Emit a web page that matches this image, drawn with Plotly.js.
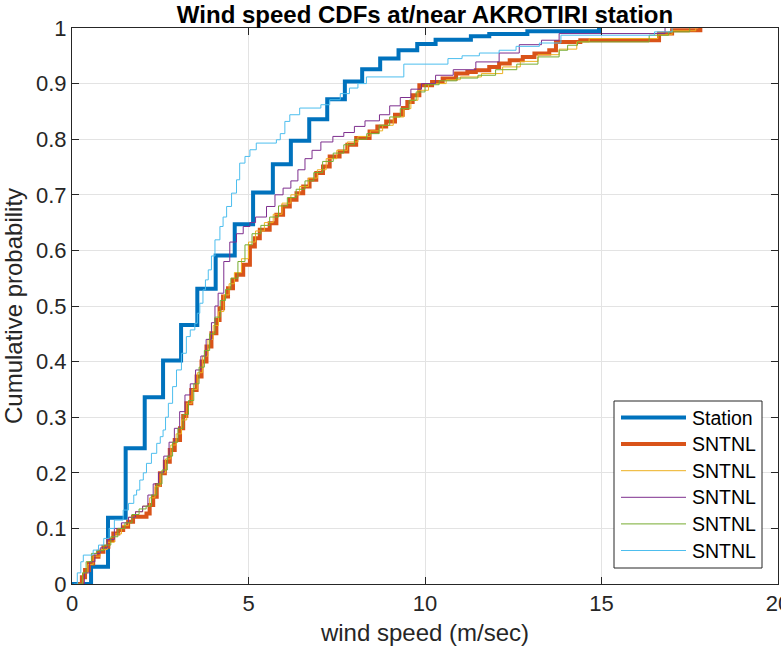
<!DOCTYPE html>
<html>
<head>
<meta charset="utf-8">
<script src="https://cdn.plot.ly/plotly-3.0.1.min.js"></script>
<style>html,body{margin:0;padding:0;background:#fff}</style>
</head>
<body>
<div id="chart" style="width:781px;height:652px"></div>
<script>
// Empirical CDFs of wind speed (m/sec) : step positions and cumulative probability
const stationSpeed = [0,0.54,1.02,1.52,2.06,2.58,3.09,3.55,4.07,4.61,5.13,5.69,6.20,6.72,7.23,7.73,8.22,8.73,9.25,9.78,10.30,11.30,11.82,12.90,14.93];
const stationProb  = [0,0.031,0.119,0.244,0.336,0.402,0.466,0.531,0.591,0.647,0.704,0.755,0.797,0.836,0.872,0.904,0.926,0.945,0.960,0.971,0.979,0.985,0.989,0.994,1.000];

const sntnl1Speed = [0.18,0.28,0.37,0.48,0.60,0.75,0.89,1.03,1.17,1.31,1.45,1.59,1.73,2.11,2.20,2.30,2.40,2.49,2.63,2.77,2.91,3.06,3.15,3.24,3.38,3.53,3.67,3.81,3.95,4.09,4.18,4.28,4.42,4.56,4.66,4.85,5.04,5.18,5.32,5.60,5.79,5.98,6.17,6.36,6.55,6.73,6.92,7.11,7.30,7.58,7.80,8.05,8.43,8.65,8.90,9.15,9.37,9.50,9.65,9.84,10.20,10.50,10.88,11.20,11.44,11.82,12.10,12.40,12.77,13.10,13.52,13.71,14.40,16.63,17.00,17.80];
const sntnl1Prob  = [0,0.012,0.025,0.037,0.049,0.058,0.067,0.079,0.091,0.097,0.103,0.112,0.121,0.127,0.142,0.157,0.178,0.199,0.220,0.241,0.259,0.280,0.302,0.325,0.349,0.373,0.400,0.427,0.451,0.475,0.496,0.517,0.532,0.547,0.556,0.574,0.607,0.622,0.637,0.649,0.664,0.679,0.691,0.703,0.715,0.727,0.739,0.751,0.769,0.778,0.790,0.802,0.814,0.823,0.832,0.844,0.856,0.867,0.879,0.897,0.903,0.909,0.918,0.921,0.924,0.930,0.936,0.942,0.948,0.954,0.960,0.975,0.978,0.990,0.996,1.000];

const sntnl2Speed = [0.15,0.30,0.45,0.60,0.80,1.00,1.20,1.40,1.60,1.80,2.00,2.20,2.35,2.50,2.65,2.80,2.95,3.10,3.25,3.40,3.55,3.70,3.85,4.00,4.15,4.30,4.45,4.60,4.80,5.00,5.20,5.45,5.70,5.95,6.20,6.45,6.70,6.95,7.20,7.50,7.80,8.10,8.45,8.80,9.10,9.40,9.60,9.80,10.10,10.60,11.00,11.60,12.20,12.70,13.20,13.80,14.30,14.65,16.60,17.00,17.67];
const sntnl2Prob  = [0,0.020,0.035,0.050,0.062,0.075,0.090,0.105,0.120,0.130,0.140,0.155,0.175,0.200,0.225,0.250,0.270,0.295,0.325,0.350,0.380,0.410,0.440,0.465,0.490,0.520,0.540,0.560,0.585,0.615,0.635,0.650,0.665,0.685,0.700,0.715,0.730,0.745,0.765,0.780,0.795,0.805,0.815,0.825,0.840,0.855,0.870,0.888,0.900,0.907,0.912,0.918,0.930,0.940,0.952,0.962,0.975,0.981,0.988,0.995,1.000];

const sntnl3Speed = [0.22,0.35,0.50,0.65,0.80,1.00,1.20,1.40,1.60,1.80,2.00,2.15,2.30,2.45,2.60,2.75,2.90,3.05,3.20,3.35,3.50,3.65,3.80,3.95,4.05,4.14,4.30,4.47,4.66,4.85,5.04,5.20,5.51,5.75,5.98,6.20,6.40,6.60,6.80,7.05,7.39,7.70,8.00,8.30,8.71,9.00,9.30,9.60,9.90,10.30,10.80,11.44,12.10,12.67,13.30,13.80,16.80];
const sntnl3Prob  = [0,0.020,0.040,0.055,0.065,0.080,0.100,0.110,0.120,0.130,0.140,0.160,0.180,0.200,0.230,0.255,0.280,0.310,0.340,0.360,0.385,0.410,0.440,0.470,0.500,0.523,0.580,0.615,0.630,0.643,0.650,0.660,0.679,0.700,0.712,0.725,0.745,0.765,0.780,0.795,0.805,0.812,0.823,0.833,0.844,0.860,0.875,0.890,0.900,0.915,0.925,0.939,0.955,0.970,0.978,0.990,1.000];

const sntnl4Speed = [0.20,0.30,0.40,0.55,0.70,0.90,1.10,1.30,1.50,1.70,1.90,2.10,2.25,2.40,2.55,2.70,2.85,3.00,3.15,3.30,3.45,3.60,3.75,3.90,4.05,4.20,4.35,4.50,4.70,4.90,5.10,5.35,5.60,5.85,6.10,6.35,6.60,6.85,7.10,7.40,7.70,8.00,8.35,8.70,9.00,9.30,9.55,9.75,10.00,10.40,10.90,11.50,12.00,12.60,13.20,13.80,14.04,14.32,16.35,16.90,17.50];
const sntnl4Prob  = [0,0.020,0.040,0.055,0.060,0.070,0.085,0.100,0.110,0.125,0.135,0.140,0.160,0.180,0.205,0.230,0.255,0.280,0.305,0.330,0.360,0.390,0.420,0.450,0.480,0.510,0.530,0.550,0.580,0.610,0.630,0.645,0.660,0.680,0.695,0.710,0.725,0.740,0.760,0.775,0.790,0.800,0.810,0.825,0.840,0.855,0.870,0.885,0.898,0.905,0.910,0.915,0.925,0.935,0.948,0.960,0.969,0.975,0.987,0.993,1.000];

const sntnl5Speed = [0.05,0.15,0.25,0.32,0.60,0.75,0.90,1.05,1.20,1.45,1.60,1.75,1.83,1.92,2.02,2.11,2.25,2.40,2.50,2.58,2.65,2.73,2.85,2.96,3.10,3.24,3.35,3.48,3.55,3.62,3.71,3.78,3.86,3.95,4.05,4.19,4.28,4.38,4.52,4.66,4.75,4.90,5.04,5.22,5.79,5.90,6.03,6.17,6.45,7.05,7.30,7.60,7.86,8.10,8.34,9.40,10.65,11.05,11.54,12.10,12.58,13.24,13.85,16.50,17.00];
const sntnl5Prob  = [0,0.020,0.040,0.052,0.061,0.070,0.082,0.100,0.115,0.133,0.145,0.160,0.169,0.187,0.200,0.217,0.235,0.253,0.265,0.277,0.300,0.325,0.355,0.385,0.415,0.445,0.457,0.469,0.487,0.505,0.529,0.547,0.565,0.590,0.619,0.643,0.660,0.679,0.703,0.727,0.757,0.769,0.781,0.793,0.799,0.810,0.832,0.844,0.856,0.862,0.871,0.882,0.892,0.900,0.912,0.935,0.945,0.950,0.955,0.960,0.967,0.973,0.987,0.993,1.000];

const seriesNames = ['Station', 'SNTNL', 'SNTNL', 'SNTNL', 'SNTNL', 'SNTNL'];
const xTickVals = [0, 5, 10, 15, 20];
const yTickVals = [0, 0.1, 0.2, 0.3, 0.4, 0.5, 0.6, 0.7, 0.8, 0.9, 1];
const yTickText = ['0', '0.1', '0.2', '0.3', '0.4', '0.5', '0.6', '0.7', '0.8', '0.9', '1'];

// line styles (MATLAB default colour order)
const colors = ['#0072BD', '#D95319', '#EDB120', '#7E2F8E', '#77AC30', '#4DBEEE'];
const widths = [4, 4, 1, 1, 1, 1];

const xs = [stationSpeed, sntnl1Speed, sntnl2Speed, sntnl3Speed, sntnl4Speed, sntnl5Speed];
const ys = [stationProb, sntnl1Prob, sntnl2Prob, sntnl3Prob, sntnl4Prob, sntnl5Prob];

const traces = xs.map((x, i) => ({
  type: 'scatter',
  mode: 'lines',
  x: x,
  y: ys[i],
  name: seriesNames[i],
  line: {color: colors[i], width: widths[i], shape: 'hv'},
  hoverinfo: 'skip',
  showlegend: false
}));

// plot-area geometry in pixels, used to place the legend box
const W = 781, H = 652;
const M = {l: 72, r: 3, t: 28, b: 68};
const plotW = W - M.l - M.r, plotH = H - M.t - M.b;
const px = v => (v - M.l) / plotW;          // pixel x -> paper x
const py = v => (H - M.b - v) / plotH;       // pixel y -> paper y

// MATLAB-style legend: framed box with long line samples
const legBox = {x0: 614, x1: 762, y0: 401, y1: 568};
const legRow0 = 417.5, legRowStep = 26.6;
const shapes = [{
  type: 'rect', xref: 'paper', yref: 'paper', layer: 'above',
  x0: px(legBox.x0), x1: px(legBox.x1), y0: py(legBox.y1), y1: py(legBox.y0),
  fillcolor: '#ffffff', line: {color: '#262626', width: 1}
}];
const annotations = [];
seriesNames.forEach((name, i) => {
  const yy = py(legRow0 + i * legRowStep);
  shapes.push({
    type: 'line', xref: 'paper', yref: 'paper', layer: 'above',
    x0: px(621), x1: px(686), y0: yy, y1: yy,
    line: {color: colors[i], width: widths[i]}
  });
  annotations.push({
    xref: 'paper', yref: 'paper', x: px(690), y: yy,
    xanchor: 'left', yanchor: 'middle', showarrow: false,
    text: name, font: {size: 19.5, color: '#000000'}
  });
});

const axisCommon = {
  ticks: 'inside',
  ticklen: 7,
  tickwidth: 1,
  tickcolor: '#262626',
  showline: true,
  linecolor: '#262626',
  linewidth: 1,
  mirror: 'ticks',
  showgrid: true,
  gridcolor: '#e3e3e3',
  gridwidth: 1,
  zeroline: false,
  tickfont: {size: 22, color: '#262626'},
  ticklabeloverflow: 'allow',
  automargin: false
};

const layout = {
  width: W,
  height: H,
  margin: {l: M.l, r: M.r, t: M.t, b: M.b, pad: 0},
  paper_bgcolor: '#ffffff',
  plot_bgcolor: '#ffffff',
  font: {family: 'Liberation Sans, Arial, sans-serif', color: '#262626'},
  title: {
    text: 'Wind speed CDFs at/near AKROTIRI station',
    font: {size: 24, color: '#000000', weight: 'bold'},
    x: 0.5, xref: 'paper', xanchor: 'center',
    y: 1 - 15 / H, yref: 'container', yanchor: 'middle'
  },
  xaxis: Object.assign({}, axisCommon, {
    range: [0, 20],
    tickmode: 'array',
    tickvals: xTickVals,
    ticktext: xTickVals.map(String),
    title: {text: 'wind speed (m/sec)', font: {size: 24, color: '#262626'}, standoff: 8}
  }),
  yaxis: Object.assign({}, axisCommon, {
    range: [0, 1],
    tickmode: 'array',
    tickvals: yTickVals,
    ticktext: yTickText,
    title: {text: 'Cumulative probability', font: {size: 24, color: '#262626'}, standoff: 8}
  }),
  showlegend: false,
  shapes: shapes,
  annotations: annotations
};

Plotly.newPlot('chart', traces, layout, {displayModeBar: false, staticPlot: true});
</script>
</body>
</html>
